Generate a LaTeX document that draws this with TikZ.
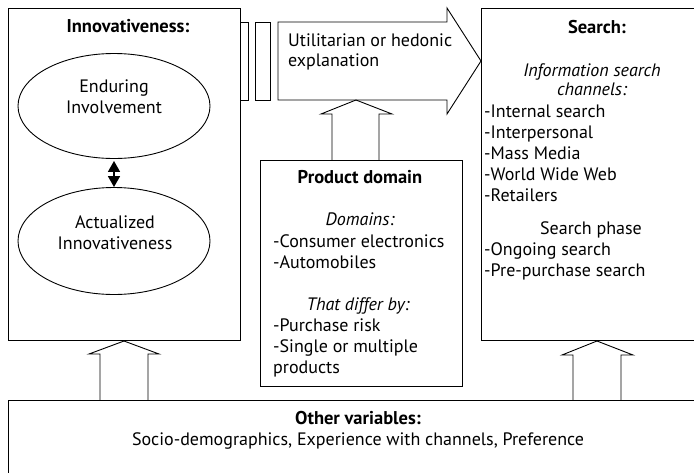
\documentclass[tikz,border=0pt]{standalone}
\usepackage{fontspec}
\setmainfont{PT Sans}
\usetikzlibrary{shapes.geometric,arrows.meta}
\newcommand\bodyfont{\fontsize{18}{21}\selectfont}
\newcommand\titlefont{\fontsize{18.5}{21}\selectfont\bfseries}
\begin{document}
\begin{tikzpicture}[x=1pt,y=-1pt,
  box/.style={draw, line width=1pt, inner sep=0pt, anchor=north west},
  oval/.style={draw, ellipse, line width=0.9pt, inner sep=0pt},
  blockarrow/.style={draw, line width=0.9pt, line join=miter},
  txt/.style={inner sep=0pt, font=\bodyfont},
  head/.style={inner sep=0pt, font=\titlefont},
  note/.style={inner sep=0pt, font=\bodyfont\itshape},
  twoway/.style={{Triangle[width=12pt,length=11pt]}-{Triangle[width=12pt,length=11pt]}, line width=1.6pt}]
\clip (0,0) rectangle (694,472);
\fill[white] (0,0) rectangle (694,472);

% main boxes
\node[box, minimum width=232pt, minimum height=332pt] (innov) at (8,8) {};
\node[box, minimum width=260pt, minimum height=332pt] (search) at (481,8) {};
\node[box, minimum width=202pt, minimum height=226pt] (domain) at (260,160) {};
\node[box, minimum width=720pt, minimum height=100pt] (other) at (8,400) {};

% innovativeness constructs
\node[oval, minimum width=192pt, minimum height=105pt] (endur) at (114,106) {};
\node[oval, minimum width=192pt, minimum height=107pt] (actual) at (114,241) {};
\draw[twoway, shorten <=2pt] (endur.south) -- (actual.north);

% striped block arrow towards search
\node[box, minimum width=8pt, minimum height=78pt] (stripeA) at (240,22) {};
\node[box, minimum width=15pt, minimum height=78pt] (stripeB) at (255,22) {};
\draw[blockarrow] (278,22) -- (447,22) -- (447,8) -- (481,61) -- (447,114)
  -- (447,100) -- (278,100) -- cycle;

% upward block arrows
\draw[blockarrow] (332,160) -- (332,114) -- (321,114) -- (356,100) -- (392,114)
  -- (379,114) -- (379,160);
\draw[blockarrow] (100,400) -- (100,354) -- (89,354) -- (124,341) -- (159,354)
  -- (148,354) -- (148,400);
\draw[blockarrow] (573,400) -- (573,355) -- (562,355) -- (597,341) -- (633,355)
  -- (621,355) -- (621,400);

% texts: innovativeness
\node[head, anchor=base] (innovT) at (128,32) {Innovativeness:};
\node[txt, anchor=base] (endurA) at (114,92) {Enduring};
\node[txt, anchor=base] (endurB) at (114,113) {Involvement};
\node[txt, anchor=base] (actualA) at (115,228) {Actualized};
\node[txt, anchor=base] (actualB) at (115,249) {Innovativeness};

% texts: explanation arrow
\node[txt, anchor=base west] (explA) at (288,46) {Utilitarian or hedonic};
\node[txt, anchor=base west] (explB) at (288,66) {explanation};

% texts: search
\node[head, anchor=base] (searchT) at (597,33) {Search:};
\node[note, anchor=base] (chanA) at (592,76) {Information search};
\node[note, anchor=base] (chanB) at (592,95) {channels:};
\foreach \t [count=\i] in {-Internal search,-Interpersonal,-Mass Media,-World Wide Web,-Retailers}
  \node[txt, anchor=base west] (chan\i) at (484,{117+21*(\i-1)}) {\t};
\node[txt, anchor=base] (phaseT) at (591,234) {Search phase};
\node[txt, anchor=base west] (phase1) at (484,255) {-Ongoing search};
\node[txt, anchor=base west] (phase2) at (484,276) {-Pre-purchase search};

% texts: product domain
\node[head, anchor=base] (domainT) at (360,183) {Product domain};
\node[note, anchor=base] (domA) at (360,225) {Domains:};
\node[txt, anchor=base west] (dom1) at (273,247) {-Consumer electronics};
\node[txt, anchor=base west] (dom2) at (273,268) {-Automobiles};
\node[note, anchor=base] (diffT) at (358,310) {That differ by:};
\node[txt, anchor=base west] (diff1) at (273,331) {-Purchase risk};
\node[txt, anchor=base west] (diff2) at (273,352) {-Single or multiple};
\node[txt, anchor=base west] (diff3) at (273,373) {products};

% texts: other variables
\node[head, anchor=base] (otherT) at (358,424) {Other variables:};
\node[txt, anchor=base] (otherL) at (358,445) {Socio-demographics, Experience with channels, Preference};
\end{tikzpicture}
\end{document}
